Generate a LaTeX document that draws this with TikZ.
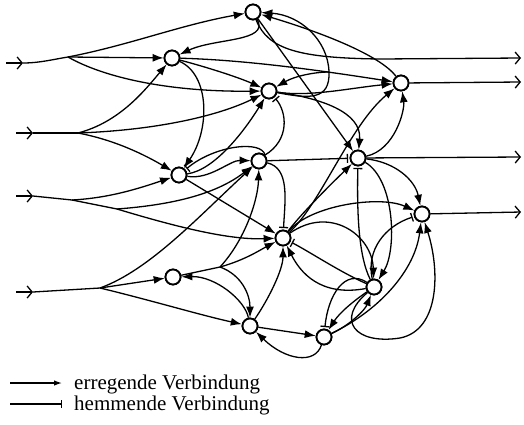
\documentclass[tikz,border=0pt]{standalone}
\usepackage{fontspec}
\setmainfont{Liberation Serif}
\usetikzlibrary{arrows.meta}
\begin{document}
\begin{tikzpicture}[x=1bp,y=-1bp,
  neuron/.style={circle,draw,line width=1.8bp,fill=white,minimum size=15bp,inner sep=0pt},
  wire/.style={line width=1.3bp},
  exc/.style={wire,-{Latex[length=11bp,width=8bp]}},
  inh/.style={wire,-{Bar[width=9bp,line width=1.3bp]},shorten >=1.5bp},
  inarrow/.style={wire,-{Straight Barb[length=5bp,width=12bp,line width=1.3bp]}},
  lab/.style={font=\fontsize{21bp}{22bp}\selectfont,anchor=base west,inner sep=0pt}
]
\useasboundingbox (0,0) rectangle (524,424);

% neurons
\node[neuron] (A) at (253,12) {};
\node[neuron] (B) at (172,58) {};
\node[neuron] (C) at (269,91) {};
\node[neuron] (D) at (401,83) {};
\node[neuron] (E) at (179,175) {};
\node[neuron] (F) at (259,161) {};
\node[neuron] (G) at (358,158) {};
\node[neuron] (H) at (422,214) {};
\node[neuron] (I) at (283,238) {};
\node[neuron] (J) at (173,277) {};
\node[neuron] (K) at (374,287) {};
\node[neuron] (L) at (250,326) {};
\node[neuron] (M) at (324,337) {};

% input lines
\coordinate (s1) at (6,63);   \coordinate (c1) at (23,63);  \coordinate (b1) at (68,57);
\coordinate (s2) at (16,133); \coordinate (c2) at (33,133); \coordinate (b2) at (78,133);
\coordinate (s3) at (16,196); \coordinate (c3) at (33,196); \coordinate (b3) at (72,200); \coordinate (b3b) at (117,209);
\coordinate (s4) at (16,292); \coordinate (c4) at (33,292); \coordinate (b4) at (100,288);
\coordinate (jb) at (220,267);
\coordinate (arc) at (329,72);

\draw[inarrow] (s1) -- (c1);
\draw[wire] (c1) .. controls (40,63) and (55,59) .. (b1);
\draw[exc] (b1) .. controls (130,45) and (180,25) .. (A);
\draw[exc] (b1) -- (B);
\draw[exc] (b1) .. controls (105,78) and (170,92) .. (C);

\draw[inarrow] (s2) -- (c2);
\draw[wire] (c2) -- (b2);
\draw[exc] (b2) .. controls (120,122) and (145,90) .. (B);
\draw[exc] (b2) .. controls (160,130) and (220,115) .. (C);
\draw[exc] (b2) .. controls (115,140) and (145,155) .. (E);

\draw[inarrow] (s3) -- (c3);
\draw[wire] (c3) -- (b3);
\draw[exc] (b3) .. controls (110,198) and (140,188) .. (E);
\draw[wire] (b3) -- (b3b);
\draw[exc] (b3b) .. controls (170,205) and (215,195) .. (F);
\draw[exc] (b3b) .. controls (180,228) and (230,240) .. (I);

\draw[inarrow] (s4) -- (c4);
\draw[wire] (c4) -- (b4);
\draw[exc] (b4) -- (J);
\draw[exc] (b4) .. controls (150,300) and (200,315) .. (L);
\draw[exc] (b4) .. controls (150,270) and (200,215) .. (F);

% outputs
\coordinate (o1) at (521,58); \coordinate (o2) at (521,82);
\coordinate (o3) at (521,157); \coordinate (o4) at (521,212);
\draw[inarrow] (A) .. controls (268,50) and (300,58) .. (380,59) -- (o1);
\draw[inarrow] (D) -- (o2);
\draw[inarrow] (G) -- (o3);
\draw[inarrow] (H) -- (o4);

% A, B, C, D
\draw[exc] (A) .. controls (270,42) and (215,38) .. (B);
\draw[exc] (A) -- (G);
\draw[exc] (D) .. controls (380,55) and (320,32) .. (A);
\draw[wire] (C) .. controls (310,99) and (330,100) .. (arc);
\draw[exc] (arc) .. controls (328,40) and (300,15) .. (A);
\draw[exc] (arc) .. controls (315,72) and (295,76) .. (C);
\draw[exc] (C) .. controls (310,97) and (350,88) .. (D);
\draw[exc] (C) .. controls (320,98) and (362,112) .. (G);
\draw[exc] (B) .. controls (210,68) and (240,78) .. (C);
\draw[exc] (B) .. controls (250,60) and (330,72) .. (D);
\draw[exc] (B) .. controls (210,75) and (210,130) .. (E);

% E, F
\draw[exc] (E) .. controls (215,170) and (245,130) .. (C);
\draw[exc] (E) .. controls (210,180) and (230,160) .. (F);
\draw[exc] (E) -- (I);
\draw[inh] (F.north east) .. controls (262,140) and (215,145) .. (E);
\draw[inh] (F.north east) .. controls (290,140) and (287,112) .. (C);
\draw[inh] (F) -- (G);
\draw[inh] (F) .. controls (290,168) and (285,200) .. (I);

% G
\draw[exc] (G) .. controls (395,150) and (405,110) .. (D);
\draw[exc] (G) .. controls (395,162) and (415,180) .. (H);
\draw[exc] (G) .. controls (395,180) and (397,250) .. (K);

% I
\draw[exc] (I) .. controls (300,215) and (330,185) .. (G);
\draw[exc] (I) .. controls (320,205) and (350,125) .. (D);
\draw[exc] (I) .. controls (310,205) and (380,195) .. (H);
\draw[exc] (I) .. controls (330,205) and (372,235) .. (K);

% K
\draw[inh] (K) .. controls (340,272) and (310,252) .. (I);
\draw[exc] (K) .. controls (320,297) and (300,272) .. (I);
\draw[inh] (K) .. controls (358,255) and (357,210) .. (G);
\draw[inh] (K) .. controls (366,250) and (385,226) .. (H);
\draw[inh] (K) .. controls (345,268) and (328,295) .. (M);
\draw[exc] (K) .. controls (355,300) and (340,312) .. (M);
\draw[exc] (K) .. controls (335,320) and (355,345) .. (400,338) .. controls (440,330) and (440,270) .. (H);

% M
\draw[exc] (M) .. controls (350,325) and (365,310) .. (K);
\draw[exc] (M) .. controls (380,310) and (415,270) .. (H);
\draw[exc] (M) .. controls (315,365) and (285,360) .. (L);

% L, J
\draw[exc] (L) -- (M);
\draw[exc] (L) .. controls (245,300) and (215,276) .. (J);
\draw[exc] (L) .. controls (268,300) and (283,270) .. (I);
\draw[wire] (J) -- (jb);
\draw[exc] (jb) .. controls (245,260) and (260,250) .. (I);
\draw[exc] (jb) .. controls (245,240) and (258,200) .. (F);
\draw[exc] (jb) .. controls (242,275) and (250,295) .. (L);

% redraw neurons on top
\foreach \n in {A,B,C,D,E,F,G,H,I,J,K,L,M} \node[neuron] at (\n) {};

% legend
\coordinate (l1a) at (10,383); \coordinate (l1b) at (62,383);
\coordinate (l2a) at (10,404); \coordinate (l2b) at (62,404);
\draw[wire,-{Latex[length=8bp,width=5.5bp]}] (l1a) -- (l1b);
\draw[wire,-{Bar[width=8bp,line width=1.3bp]}] (l2a) -- (l2b);
\node[lab] (t1) at (74,389) {erregende Verbindung};
\node[lab] (t2) at (74,410) {hemmende Verbindung};
\end{tikzpicture}
\end{document}
